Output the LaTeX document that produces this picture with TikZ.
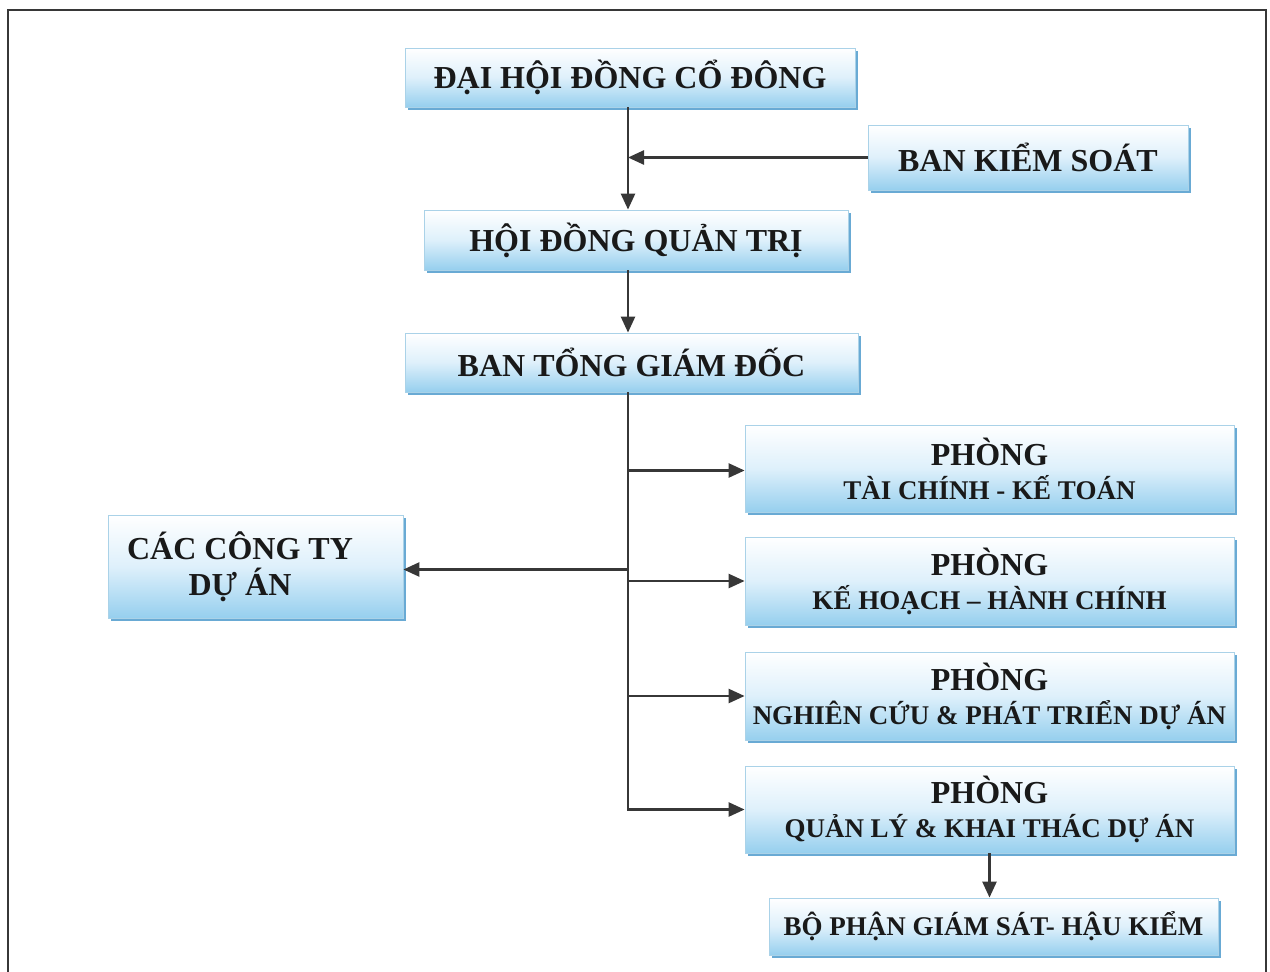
\documentclass[tikz,border=0pt]{standalone}
\usepackage{fontspec}
\setmainfont{Liberation Serif}
\usetikzlibrary{arrows.meta,shadows}
\definecolor{boxblue}{RGB}{150,207,238}
\definecolor{shadowblue}{RGB}{105,170,212}
\definecolor{edgeblue}{RGB}{170,210,232}
\definecolor{linegray}{RGB}{55,55,55}
\newcommand{\fsA}{\fontsize{32}{36}\selectfont}
\newcommand{\fsB}{\fontsize{27}{33}\selectfont}
\tikzset{
  orgbox/.style={draw=edgeblue, line width=0.8pt, top color=white, bottom color=boxblue,
    middle color={rgb,255:red,222;green,240;blue,251},
    drop shadow={shadow xshift=3pt, shadow yshift=-3pt, fill=shadowblue, opacity=1},
    font=\fsA\bfseries, align=center, inner sep=0pt, text=black!90},
  conn/.style={draw=linegray, line width=2.5pt},
  arr/.style={conn, -{Triangle[length=16pt,width=14pt]}},
}
\begin{document}
\begin{tikzpicture}[x=1pt,y=-1pt]
\useasboundingbox (0,0) rectangle (1270,972);
\draw[draw=linegray, line width=2.6pt] (8,972) -- (8,10) -- (1266,10) -- (1266,972);
\coordinate (t) at (628,0);
\node[orgbox, minimum width=450pt, minimum height=59pt] (dh) at (630,77.5) {ĐẠI HỘI ĐỒNG CỔ ĐÔNG};
\node[orgbox, minimum width=320pt, minimum height=65pt] (bks) at (1028,157.5) {BAN KIỂM SOÁT};
\node[orgbox, minimum width=424pt, minimum height=60pt] (hd) at (636,240) {HỘI ĐỒNG QUẢN TRỊ};
\node[orgbox, minimum width=453pt, minimum height=59pt] (bt) at (631.5,362.5) {BAN TỔNG GIÁM ĐỐC};
\node[orgbox, minimum width=489pt, minimum height=87pt] (p1) at (989.5,468.5) {PHÒNG\\[-2pt]{\fsB TÀI CHÍNH - KẾ TOÁN}};
\node[orgbox, minimum width=489pt, minimum height=88pt] (p2) at (989.5,581) {PHÒNG\\[-2pt]{\fsB KẾ HOẠCH – HÀNH CHÍNH}};
\node[orgbox, minimum width=489pt, minimum height=88pt] (p3) at (989.5,696) {PHÒNG\\[-2pt]{\fsB NGHIÊN CỨU \& PHÁT TRIỂN DỰ ÁN}};
\node[orgbox, minimum width=489pt, minimum height=87pt] (p4) at (989.5,809.5) {PHÒNG\\[-2pt]{\fsB QUẢN LÝ \& KHAI THÁC DỰ ÁN}};
\node[orgbox, minimum width=449pt, minimum height=57pt] (bp) at (993.5,926.5) {\fsB BỘ PHẬN GIÁM SÁT- HẬU KIỂM};
\node[orgbox, minimum width=295pt, minimum height=103pt] (cty) at (255.5,566.5) {CÁC CÔNG TY\hspace*{31pt}\\DỰ ÁN\hspace*{31pt}};
% connectors
\draw[arr] (dh.south -| t) -- (hd.north -| t);
\draw[arr] (bks.west) -- (bks.west -| t);
\draw[arr] (hd.south -| t) -- (bt.north -| t);
\draw[conn] (bt.south -| t) -- ([yshift=-1.2pt]p4.west -| t);
\draw[arr] ([yshift=-2pt]p1.west -| t) -- ([yshift=-2pt]p1.west);
\draw[arr] (p2.west -| t) -- (p2.west);
\draw[arr] (p3.west -| t) -- (p3.west);
\draw[arr] (p4.west -| t) -- (p4.west);
\draw[arr] ([yshift=-3pt]cty.east -| t) -- ([yshift=-3pt]cty.east);
\draw[arr] (p4.south) -- (p4.south |- bp.north);
\end{tikzpicture}
\end{document}
